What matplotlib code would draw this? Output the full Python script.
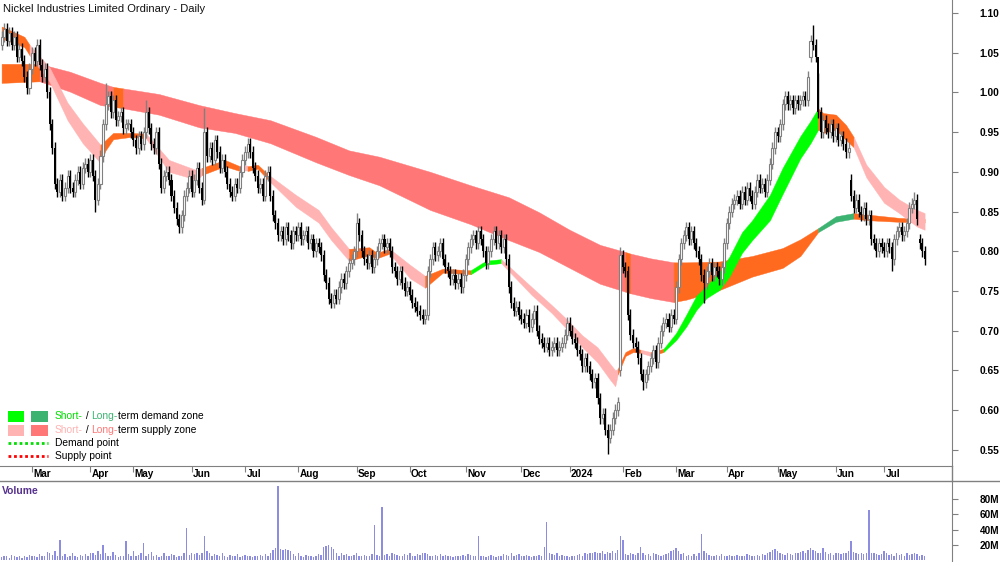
import numpy as np
import pandas as pd
import matplotlib
matplotlib.use('Agg')
import matplotlib.pyplot as plt
import matplotlib.transforms as mtransforms
from matplotlib.lines import Line2D
from matplotlib.patches import Rectangle
from matplotlib.ticker import FormatStrFormatter

plt.rcParams['font.family'] = ['Liberation Sans', 'DejaVu Sans']

# ASX holidays inside the window (no candle on these days)
holidays = ['2023-04-07', '2023-04-10', '2023-04-25', '2023-06-12', '2023-12-25',
            '2023-12-26', '2024-01-01', '2024-01-26', '2024-03-29', '2024-04-01',
            '2024-04-25', '2024-06-10']

# daily closes (13 Feb 2023 .. 23 Jul 2024)
closes = [
    1.07, 1.08, 1.065, 1.075, 1.06, 1.07, 1.045, 1.055, 1.04, 1.02,
    1.005, 1.03, 1.05, 1.04, 1.06, 1.035, 1.02, 1.03, 1.0, 0.96,
    0.93, 0.885, 0.875, 0.89, 0.87, 0.88, 0.895, 0.88, 0.875, 0.89,
    0.90, 0.885, 0.905, 0.91, 0.90, 0.915, 0.895, 0.865, 0.885, 0.92,
    0.96, 0.985, 0.995, 0.975, 0.99, 0.965, 0.97, 0.975, 0.955, 0.96,
    0.96, 0.95, 0.94, 0.93, 0.945, 0.935, 0.95, 0.975, 0.955, 0.935,
    0.93, 0.95, 0.91, 0.88, 0.895, 0.90, 0.89, 0.87, 0.855, 0.84,
    0.83, 0.845, 0.87, 0.88, 0.895, 0.875, 0.89, 0.905, 0.88, 0.865,
    0.95, 0.92, 0.93, 0.915, 0.94, 0.925, 0.905, 0.915, 0.90, 0.885,
    0.875, 0.87, 0.885, 0.88, 0.90, 0.915, 0.925, 0.935, 0.925, 0.905,
    0.895, 0.88, 0.885, 0.87, 0.895, 0.90, 0.87, 0.845, 0.835, 0.82,
    0.825, 0.815, 0.83, 0.82, 0.81, 0.825, 0.82, 0.83, 0.815, 0.82,
    0.825, 0.81, 0.815, 0.80, 0.81, 0.805, 0.795, 0.77, 0.76, 0.74,
    0.735, 0.745, 0.74, 0.755, 0.765, 0.76, 0.775, 0.785, 0.79, 0.80,
    0.835, 0.82, 0.80, 0.79, 0.785, 0.795, 0.78, 0.79, 0.80, 0.81,
    0.815, 0.805, 0.81, 0.80, 0.78, 0.775, 0.765, 0.775, 0.76, 0.75,
    0.755, 0.745, 0.735, 0.73, 0.725, 0.72, 0.715, 0.72, 0.775, 0.79,
    0.805, 0.795, 0.80, 0.81, 0.79, 0.78, 0.775, 0.765, 0.77, 0.76,
    0.765, 0.755, 0.77, 0.79, 0.805, 0.815, 0.82, 0.81, 0.825, 0.815,
    0.80, 0.785, 0.80, 0.815, 0.825, 0.81, 0.82, 0.805, 0.815, 0.79,
    0.755, 0.735, 0.725, 0.73, 0.72, 0.715, 0.71, 0.72, 0.705, 0.715,
    0.725, 0.70, 0.69, 0.685, 0.68, 0.685, 0.675, 0.68, 0.685, 0.675,
    0.68, 0.685, 0.695, 0.71, 0.70, 0.69, 0.685, 0.675, 0.67, 0.655,
    0.665, 0.655, 0.645, 0.635, 0.64, 0.615, 0.59, 0.595, 0.575, 0.565,
    0.575, 0.59, 0.60, 0.61, 0.795, 0.78, 0.775, 0.72, 0.695, 0.685,
    0.68, 0.665, 0.645, 0.635, 0.645, 0.655, 0.665, 0.675, 0.66, 0.685,
    0.70, 0.71, 0.715, 0.705, 0.72, 0.715, 0.755, 0.79, 0.81, 0.82,
    0.83, 0.815, 0.825, 0.81, 0.80, 0.79, 0.77, 0.76, 0.775, 0.785,
    0.77, 0.78, 0.775, 0.765, 0.78, 0.81, 0.835, 0.85, 0.86, 0.865,
    0.87, 0.86, 0.875, 0.865, 0.88, 0.87, 0.86, 0.875, 0.89, 0.88,
    0.885, 0.875, 0.89, 0.91, 0.93, 0.95, 0.945, 0.96, 0.985, 0.995,
    0.985, 0.99, 0.98, 0.99, 0.985, 0.99, 0.995, 0.99, 1.02, 1.065,
    1.06, 1.045, 0.975, 0.95, 0.965, 0.955, 0.95, 0.96, 0.945, 0.955,
    0.94, 0.945, 0.935, 0.925, 0.93, 0.87, 0.855, 0.865, 0.85, 0.845,
    0.855, 0.84, 0.845, 0.815, 0.81, 0.80, 0.81, 0.805, 0.80, 0.81,
    0.805, 0.79, 0.815, 0.825, 0.83, 0.82, 0.825, 0.835, 0.855, 0.86,
    0.865, 0.84, 0.81, 0.80, 0.79,
]

# days that opened away from the previous close
gap_idx = [0, 244, 319, 335, 362]
gap_open = [1.06, 0.65, 1.045, 0.89, 0.815]

# long wicks
spike_idx = [37, 41, 57, 80, 140, 166, 239, 244, 253, 277, 320, 322, 351, 360]
spike_high = [None, 1.012, 0.99, 0.98, 0.848, None, None, 0.805, None, None, 1.085, 1.025, None, 0.875]
spike_low = [0.85, None, None, 0.86, None, 0.708, 0.545, None, 0.625, 0.735, None, None, 0.775, None]

# volume in millions
volume_m = [
    4, 6, 5, 3, 7, 5, 4, 6, 3, 5,
    4, 7, 5, 6, 4, 8, 6, 5, 11, 9,
    7, 12, 6, 26, 5, 8, 4, 6, 9, 5,
    4, 7, 5, 8, 6, 9, 10, 7, 12, 8,
    20, 9, 6, 5, 11, 7, 4, 6, 5, 25,
    8, 6, 12, 5, 7, 9, 22, 6, 8, 11,
    5, 7, 4, 6, 9, 5, 6, 8, 7, 4,
    6, 5, 9, 42, 7, 10, 8, 9, 7, 10,
    32, 12, 9, 6, 8, 7, 5, 9, 6, 4,
    7, 5, 6, 8, 4, 5, 7, 6, 5, 4,
    6, 5, 7, 6, 8, 5, 9, 13, 16, 97,
    15, 14, 15, 13, 12, 8, 6, 9, 5, 4,
    7, 5, 6, 4, 6, 8, 7, 17, 19, 20,
    18, 15, 10, 6, 9, 7, 8, 5, 6, 7,
    9, 6, 5, 7, 6, 5, 8, 46, 7, 6,
    70, 7, 8, 6, 9, 8, 7, 5, 6, 8,
    7, 9, 5, 6, 8, 7, 9, 10, 8, 6,
    6, 7, 5, 8, 6, 7, 6, 5, 4, 6,
    5, 6, 7, 6, 8, 7, 5, 6, 32, 6,
    5, 4, 6, 7, 5, 4, 6, 5, 8, 7,
    5, 9, 6, 7, 8, 6, 5, 7, 6, 4,
    6, 5, 7, 6, 18, 50, 9, 8, 7, 9,
    6, 7, 5, 6, 4, 5, 6, 7, 8, 6,
    9, 8, 10, 9, 11, 10, 9, 12, 8, 11,
    10, 12, 9, 14, 32, 26, 8, 7, 9, 8,
    7, 10, 18, 9, 7, 8, 6, 9, 8, 7,
    6, 7, 8, 9, 12, 13, 16, 12, 8, 9,
    6, 7, 5, 8, 6, 9, 34, 12, 9, 7,
    6, 5, 7, 6, 8, 5, 6, 7, 5, 6,
    7, 6, 5, 6, 8, 7, 6, 5, 7, 6,
    8, 7, 9, 11, 13, 15, 12, 10, 8, 7,
    9, 8, 7, 9, 10, 11, 12, 9, 13, 16,
    14, 12, 10, 9, 16, 11, 8, 9, 7, 10,
    9, 8, 10, 9, 12, 25, 11, 9, 8, 10,
    8, 9, 65, 10, 9, 8, 7, 8, 12, 9,
    7, 8, 6, 9, 7, 8, 6, 9, 7, 8,
    10, 8, 6, 7, 5,
]

# short-term zone: sample day, upper, lower, state of the stretch that follows
# (o = neutral, s = supply, d = demand)
short_idx = [0, 9, 11, 19, 26, 32, 39, 41, 44, 51, 57, 66, 77, 79, 88, 94, 97, 101,
             105, 116, 125, 130, 137, 145, 148, 153, 161, 167, 174, 185, 191, 197, 209,
             217, 222, 229, 235, 240, 242, 243, 246, 249, 252, 256, 261, 266, 270, 274,
             278, 283, 287, 292, 296, 303, 308, 315, 319, 322, 324, 329, 333, 336, 341,
             348, 354, 361, 364]
short_hi = [1.083, 1.070, 1.060, 1.031, 0.987, 0.961, 0.934, 0.940, 0.949, 0.949, 0.948,
            0.915, 0.902, 0.905, 0.915, 0.907, 0.907, 0.909, 0.897, 0.871, 0.852, 0.830,
            0.803, 0.805, 0.798, 0.803, 0.783, 0.769, 0.778, 0.776, 0.788, 0.790, 0.755,
            0.732, 0.717, 0.694, 0.679, 0.658, 0.650, 0.652, 0.673, 0.678, 0.676, 0.673,
            0.677, 0.697, 0.720, 0.744, 0.756, 0.774, 0.793, 0.824, 0.839, 0.871, 0.905,
            0.945, 0.964, 0.980, 0.974, 0.972, 0.959, 0.944, 0.909, 0.881, 0.865, 0.852,
            0.848]
short_lo = [1.068, 1.057, 1.047, 1.013, 0.965, 0.936, 0.911, 0.927, 0.941, 0.944, 0.942,
            0.900, 0.890, 0.896, 0.907, 0.901, 0.901, 0.904, 0.890, 0.856, 0.836, 0.814,
            0.788, 0.795, 0.791, 0.797, 0.766, 0.754, 0.773, 0.771, 0.783, 0.785, 0.745,
            0.722, 0.705, 0.679, 0.660, 0.638, 0.630, 0.645, 0.668, 0.673, 0.672, 0.668,
            0.673, 0.688, 0.705, 0.726, 0.741, 0.751, 0.768, 0.798, 0.814, 0.839, 0.872,
            0.917, 0.936, 0.953, 0.949, 0.953, 0.940, 0.931, 0.893, 0.861, 0.848, 0.831,
            0.827]
short_zone = ('oo' + 'ssss' + 'oooo' + 'sss' + 'oo' + 's' + 'oo' + 'ssss' + 'ooo' + 'ss'
              + 'oo' + 'dd' + 'ssssss' + 'ss' + 'ooo' + 's' + 'o' + 'ddddddddddddd'
              + 'oooo' + 'ssssss')

# long-term zone (o = neutral, r = supply, g = demand)
long_idx = [0, 15, 27, 39, 44, 48, 62, 78, 92, 106, 124, 137, 149, 169, 185, 200, 212,
            224, 236, 246, 248, 256, 265, 270, 283, 296, 308, 315, 322, 329, 336, 342,
            354, 364]
long_hi = [1.036, 1.036, 1.026, 1.012, 1.007, 1.005, 0.998, 0.984, 0.974, 0.965, 0.944,
           0.927, 0.919, 0.900, 0.883, 0.868, 0.849, 0.827, 0.808, 0.799, 0.797, 0.791,
           0.786, 0.786, 0.787, 0.794, 0.804, 0.815, 0.829, 0.844, 0.848, 0.846, 0.842,
           0.841]
long_lo = [1.012, 1.014, 1.001, 0.984, 0.982, 0.980, 0.972, 0.956, 0.949, 0.936, 0.912,
           0.896, 0.883, 0.852, 0.834, 0.814, 0.799, 0.779, 0.759, 0.749, 0.747, 0.741,
           0.736, 0.739, 0.751, 0.768, 0.779, 0.794, 0.824, 0.837, 0.841, 0.839, 0.837,
           0.836]
long_zone = 'orrro' + 'rrrrrrrrrrrrrr' + 'o' + 'rr' + 'oooooo' + 'gg' + 'oooo'

zone_colors = {'o': '#FF6A1F', 's': '#FFB3B3', 'd': '#00FF00', 'r': '#FF7777', 'g': '#3CB371'}

# ---- build OHLC from the closes
n = len(closes)
x = np.arange(n)
c = np.array(closes)
o = np.r_[c[0], c[:-1]]
o[gap_idx] = gap_open
wick = 0.007
h = np.maximum(o, c) + wick
l = np.minimum(o, c) - wick
for k, i in enumerate(spike_idx):
    if spike_high[k] is not None:
        h[i] = spike_high[k]
    if spike_low[k] is not None:
        l[i] = spike_low[k]

dates = pd.bdate_range('2023-02-13', periods=n, freq='C', holidays=holidays)

# ---- figure layout (pixel based, 1000x562)
FW, FH = 1000.0, 562.0
fig = plt.figure(figsize=(10, 5.62), dpi=100)
ax = fig.add_axes([0, 1 - 466 / FH, 952 / FW, 466 / FH])
axv = fig.add_axes([0, 0, 952 / FW, 81 / FH])

xlim = (-0.63, 374.8)
grey = '#808080'


def draw_zone(idx, hi, lo, zone):
    # one polygon per run of equal state
    start = 0
    for k in range(1, len(idx)):
        if k == len(idx) - 1 or zone[k] != zone[start]:
            sl = slice(start, k + 1)
            ax.fill_between(idx[sl], lo[sl], hi[sl], color=zone_colors[zone[start]],
                            lw=0.3, zorder=1)
            start = k


draw_zone(long_idx, long_hi, long_lo, long_zone)
draw_zone(short_idx, short_hi, short_lo, short_zone)

# candles
up = c >= o
body = np.maximum(np.abs(c - o), 0.002)
ax.vlines(x[up], l[up], h[up], color=grey, lw=1.0, zorder=3)
ax.vlines(x[~up], l[~up], h[~up], color='black', lw=1.0, zorder=3)
ax.bar(x[up], body[up], bottom=np.minimum(o, c)[up], width=0.8, facecolor='white',
       edgecolor=grey, lw=0.8, zorder=4)
ax.bar(x[~up], body[~up], bottom=np.minimum(o, c)[~up], width=0.8, color='black',
       lw=0, zorder=4)

ax.set_xlim(*xlim)
ax.set_ylim(0.5295, 1.1164)
for s in ['left', 'top']:
    ax.spines[s].set_visible(False)
for s in ['right', 'bottom']:
    ax.spines[s].set_color(grey)
ax.yaxis.tick_right()
ax.set_yticks(np.arange(0.55, 1.1001, 0.05))
ax.yaxis.set_major_formatter(FormatStrFormatter('%.2f'))
ax.tick_params(axis='y', length=4, color=grey, pad=16, labelsize=7.4)
plt.setp(ax.get_yticklabels(), fontweight='bold')

# month ticks on the first trading day of each month
month_pos = [i for i in range(1, n) if dates[i].month != dates[i - 1].month]
month_lab = [str(dates[i].year) if dates[i].month == 1 else dates[i].strftime('%b')
             for i in month_pos]
ax.set_xticks(month_pos)
ax.set_xticklabels([])
ax.tick_params(axis='x', length=4, color=grey, direction='out')
btrans = mtransforms.blended_transform_factory(ax.transData, ax.transAxes)
for p, lab in zip(month_pos, month_lab):
    ax.text(p + 0.5, -8 / 466, lab, transform=btrans, ha='left', va='center',
            fontsize=7.2, fontweight='bold', clip_on=False)

ax.text(3 / 952, 1 - 9 / 466, 'Nickel Industries Limited Ordinary - Daily',
        transform=ax.transAxes, ha='left', va='center', fontsize=8, color='#111111')


# legend
def axpt(px, py):
    return px / 952, 1 - py / 466


def colored_line(px, py, parts):
    t = ax.text(*axpt(px, py), parts[0][0], color=parts[0][1], transform=ax.transAxes,
                ha='left', va='center', fontsize=7.4)
    for txt, col in parts[1:]:
        t = ax.annotate(txt, xy=(1, 0.5), xycoords=t, ha='left', va='center',
                        fontsize=7.4, color=col)


for (bx, bw, col, py) in [(8, 16, '#00FF00', 416), (31, 17, '#3CB371', 416),
                          (8, 16, '#FFB3B3', 430), (31, 17, '#FF7777', 430)]:
    ax.add_patch(Rectangle(axpt(bx, py + 5.5), bw / 952, 11 / 466,
                           transform=ax.transAxes, color=col, lw=0))
colored_line(55, 416, [('Short-', '#00DD00'), (' / ', 'black'), ('Long-', '#3CB371'),
                       ('term demand zone', 'black')])
colored_line(55, 430, [('Short-', '#FFB3B3'), (' / ', 'black'), ('Long-', '#FF7777'),
                       ('term supply zone', 'black')])
for col, py, lab in [('#00DD00', 443, 'Demand point'), ('#FF0000', 456, 'Supply point')]:
    ax.add_line(Line2D([8 / 952, 48 / 952], [1 - py / 466] * 2, transform=ax.transAxes,
                       color=col, lw=2, ls=(0, (1, 1))))
    ax.text(*axpt(55, py), lab, transform=ax.transAxes, ha='left', va='center',
            fontsize=7.4, color='black')

# ---- volume panel
axv.bar(x, volume_m, width=0.55, color='#8C8CE0', lw=0)
axv.set_xlim(*xlim)
axv.set_ylim(-2.2, 103.4)
for s in ['left', 'top', 'bottom']:
    axv.spines[s].set_visible(False)
axv.spines['right'].set_color(grey)
axv.yaxis.tick_right()
axv.set_yticks([20, 40, 60, 80])
axv.set_yticklabels(['20M', '40M', '60M', '80M'])
axv.tick_params(axis='y', length=4, color=grey, pad=16, labelsize=7.2)
plt.setp(axv.get_yticklabels(), fontweight='bold')
axv.set_xticks([])
axv.text(2 / 952, 1 - 10 / 81, 'Volume', transform=axv.transAxes, ha='left', va='center',
         fontsize=7.4, fontweight='bold', color='#55308D')

# separator lines between the panels
fig.add_artist(Line2D([0, 1], [1 - 481 / FH] * 2, transform=fig.transFigure, color=grey, lw=1))
fig.add_artist(Line2D([952 / FW] * 2, [1 - 466 / FH, 1 - 481 / FH], transform=fig.transFigure,
                      color=grey, lw=1))

fig.savefig('out.png', dpi=100)
